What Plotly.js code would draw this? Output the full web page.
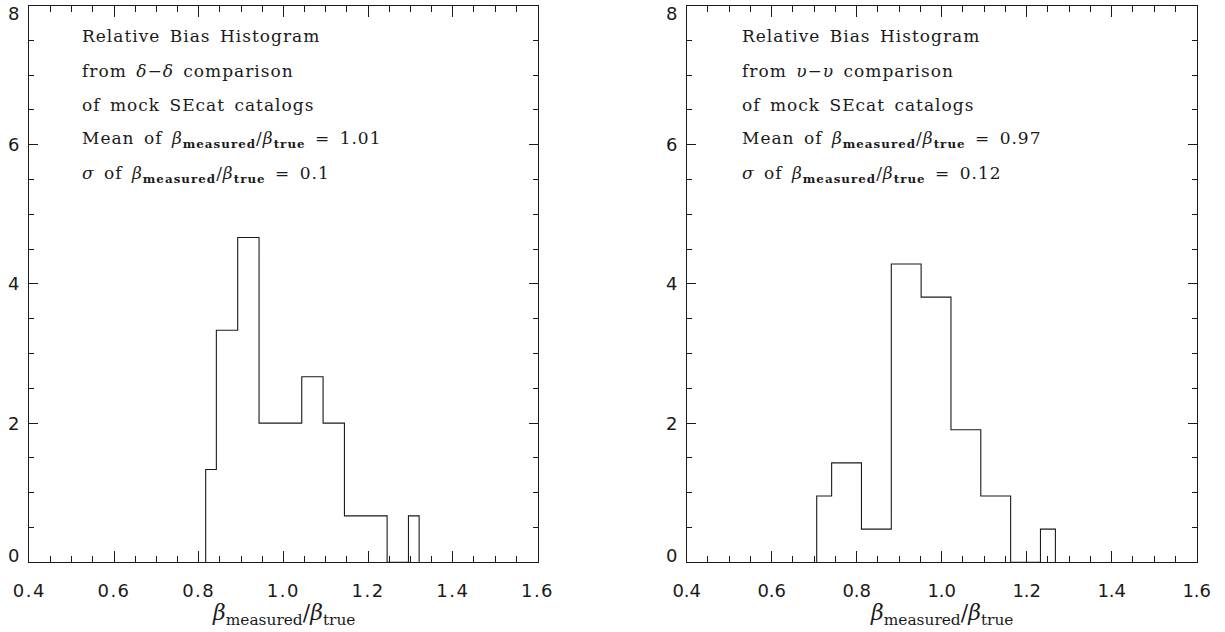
<!DOCTYPE html>
<html><head><meta charset="utf-8">
<script src="https://cdn.plot.ly/plotly-3.0.1.min.js"></script>
<style>
body{margin:0;background:#fff}
#plot{width:1225px;height:632px}
.xtick text{letter-spacing:1.5px}
</style>
<style id="notecss"></style>
</head><body><div id="plot"></div>
<script>
// Left panel: delta-delta comparison (bin centres and normalised counts)
const binCentersDD = [0.8165, 0.8669, 0.9173, 0.9677, 1.0181, 1.0685, 1.1189, 1.1693, 1.2197, 1.2701, 1.3205];
const countsDD     = [1.333, 3.333, 4.667, 2.0, 2.0, 2.667, 2.0, 0.667, 0.667, 0.0, 0.667];
// Right panel: upsilon-upsilon comparison
const binCentersVV = [0.7059, 0.7761, 0.8463, 0.9165, 0.9867, 1.0569, 1.1271, 1.1973, 1.2675];
const countsVV     = [0.952, 1.429, 0.476, 4.286, 3.810, 1.905, 0.952, 0.0, 0.476];

const xTickVals = [0.4, 0.6, 0.8, 1.0, 1.2, 1.4, 1.6];
const xTickText = ['0.4', '0.6', '0.8', '1.0', '1.2', '1.4', '1.6'];
const yTickVals = [0, 2, 4, 6, 8];
const yTickText = ['0', '2', '4', '6', '8'];

const ratioNote = '<i>β</i><sub><b>measured</b></sub>/<i>β</i><sub><b>true</b></sub>';
const ratioTitle = '<i>β</i><sub>measured</sub>/<i>β</i><sub>true</sub>';
const notesDD = ['Relative Bias Histogram', 'from <i>δ</i>−<i>δ</i> comparison', 'of mock SEcat catalogs',
  'Mean of ' + ratioNote + ' = 1.01', '<i>σ</i> of ' + ratioNote + ' = 0.1'];
const notesVV = ['Relative Bias Histogram', 'from <i>υ</i>−<i>υ</i> comparison', 'of mock SEcat catalogs',
  'Mean of ' + ratioNote + ' = 0.97', '<i>σ</i> of ' + ratioNote + ' = 0.12'];

const W = 1225, H = 632;
const ink = '#1a1a1a';

function stepTrace(c, v, xa, ya) {
  const xs = [c[0]].concat(c, [c[c.length - 1]]);
  const ys = [0].concat(v, [0]);
  return {x: xs, y: ys, xaxis: xa, yaxis: ya, type: 'scatter', mode: 'lines',
    line: {shape: 'hvh', color: ink, width: 1.1}, hoverinfo: 'skip', showlegend: false};
}

function xAxis(domain) {
  return {domain: domain, range: [0.4, 1.6], tickmode: 'array', tickvals: xTickVals, ticktext: xTickText,
    ticks: 'inside', ticklen: 11, tickwidth: 1, tickcolor: ink, showline: true, linecolor: ink, linewidth: 1,
    mirror: 'ticks', showgrid: false, zeroline: false, automargin: false, ticklabelstandoff: 12,
    tickfont: {family: 'DejaVu Sans', size: 18, color: ink},
    minor: {dtick: 0.05, tick0: 0.4, ticks: 'inside', ticklen: 6, tickwidth: 1, tickcolor: ink, showgrid: false}};
}
function yAxis(anchor) {
  return {domain: [(H - 562.3) / H, (H - 5.5) / H], range: [0, 8], anchor: anchor, tickmode: 'array', tickvals: yTickVals,
    ticks: 'inside', ticklen: 9, tickwidth: 1, tickcolor: ink, showline: true, linecolor: ink, linewidth: 1,
    mirror: 'ticks', showgrid: false, zeroline: false, automargin: false, showticklabels: false,
    minor: {dtick: 0.5, tick0: 0, ticks: 'inside', ticklen: 5, tickwidth: 1, tickcolor: ink, showgrid: false}};
}

const annotations = [];
const lineY = [36, 71, 105, 140, 174];
function addNotes(notes, xref, xpos) {
  notes.forEach((t, i) => annotations.push({text: t, xref: xref, x: xpos, xanchor: 'left', align: 'left', xshift: -2,
    yref: 'paper', y: 1 - lineY[i] / H, yanchor: 'middle', showarrow: false,
    font: {family: 'DejaVu Serif', size: 17, color: ink}}));
}
addNotes(notesDD, 'x domain', 0.103);
addNotes(notesVV, 'x2 domain', 0.108);
const nNotes = annotations.length;

function addYLabels(xref, yref) {
  yTickVals.forEach((v, i) => annotations.push({text: yTickText[i], xref: xref, x: 0, xanchor: 'right', xshift: -8,
    yref: yref, y: v, yanchor: 'middle', yshift: (v === 0 ? 7 : (v === 8 ? -8 : 0)), showarrow: false,
    font: {family: 'DejaVu Sans', size: 18, color: ink}}));
}
addYLabels('x domain', 'y');
addYLabels('x2 domain', 'y2');

['x domain', 'x2 domain'].forEach(xr => annotations.push({text: ratioTitle, xref: xr, x: 0.5, xanchor: 'center',
  yref: 'paper', y: 1 - 614 / H, yanchor: 'middle', showarrow: false, font: {family: 'DejaVu Serif', size: 22, color: ink}}));

const data = [stepTrace(binCentersDD, countsDD, 'x', 'y'), stepTrace(binCentersVV, countsVV, 'x2', 'y2')];
const layout = {width: W, height: H, margin: {l: 0, r: 0, t: 0, b: 0}, paper_bgcolor: '#fff', plot_bgcolor: '#fff',
  showlegend: false, xaxis: xAxis([29.3 / W, 537.5 / W]), yaxis: yAxis('x'),
  xaxis2: xAxis([686.7 / W, 1196.7 / W]), yaxis2: yAxis('x2'), annotations: annotations};
Plotly.newPlot('plot', data, layout, {staticPlot: true, displayModeBar: false}).then(() => {
  // widen letter spacing of the note texts after layout, keeping their left edges fixed
  let css = '';
  for (let i = 0; i < nNotes; i++) css += '.annotation[data-index="' + i + '"] text{letter-spacing:1px;word-spacing:3px}\n';
  document.getElementById('notecss').textContent = css;
});
</script></body></html>
